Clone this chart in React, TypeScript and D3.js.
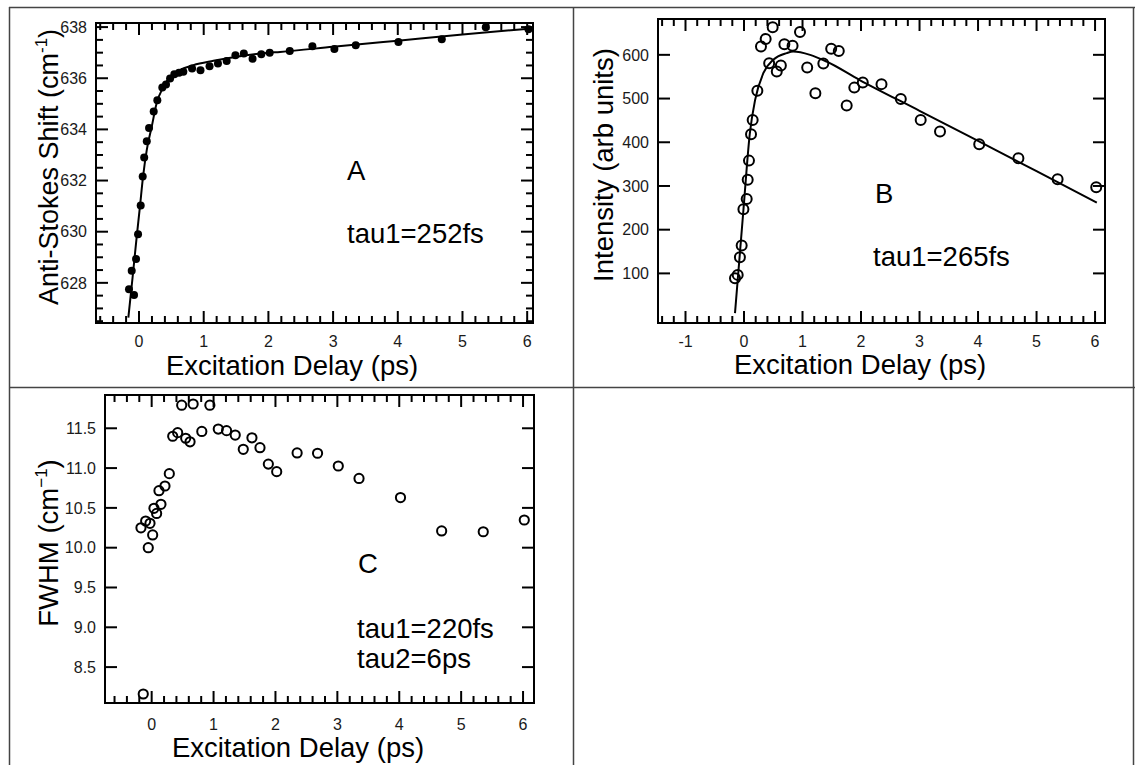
import React from "react";
import * as d3 from "d3";

const FONT = '"Liberation Sans", Arial, Helvetica, sans-serif';

// ---------- Panel A: Anti-Stokes shift ----------
const delayA = [-0.155, -0.113, -0.077, -0.046, -0.015, 0.026, 0.057, 0.08, 0.12, 0.155, 0.227, 0.283, 0.36, 0.417, 0.48, 0.546, 0.618, 0.685, 0.82, 0.95, 1.09, 1.22, 1.355, 1.49, 1.62, 1.755, 1.89, 2.02, 2.33, 2.68, 3.02, 3.35, 4.01, 4.68, 5.36, 6.02];
const shiftA = [627.75, 628.47, 627.52, 628.93, 629.9, 631.02, 632.16, 632.9, 633.54, 634.05, 634.7, 635.14, 635.64, 635.76, 635.99, 636.16, 636.21, 636.25, 636.38, 636.31, 636.47, 636.58, 636.67, 636.9, 636.97, 636.76, 636.94, 637.0, 637.07, 637.25, 637.14, 637.29, 637.42, 637.52, 637.99, 637.92];
const fitDelayA = [-0.165, -0.1, -0.04, 0.015, 0.06, 0.12, 0.196, 0.27, 0.376, 0.48, 0.63, 0.84, 1.15, 1.56, 1.97, 2.18, 3, 4, 5, 6.07];
const fitShiftA = [626.64, 628.2, 629.7, 631.0, 632.1, 633.2, 634.1, 635.0, 635.66, 636.05, 636.31, 636.51, 636.68, 636.86, 636.99, 637.03, 637.23, 637.47, 637.71, 637.95];
const xTicksA = [0, 1, 2, 3, 4, 5, 6];
const yTicksA = [628, 630, 632, 634, 636, 638];

// ---------- Panel B: Intensity ----------
const delayB = [-0.154, -0.108, -0.07, -0.04, -0.01, 0.046, 0.063, 0.085, 0.12, 0.148, 0.228, 0.29, 0.37, 0.43, 0.49, 0.56, 0.63, 0.69, 0.83, 0.957, 1.08, 1.22, 1.356, 1.49, 1.62, 1.755, 1.885, 2.03, 2.35, 2.68, 3.02, 3.35, 4.02, 4.69, 5.36, 6.02];
const intensityB = [89, 96.6, 137, 163.6, 247, 270, 314, 358, 418.5, 451, 518, 619, 636, 581, 663, 562, 575.6, 624.5, 620.6, 652, 571, 512, 580, 613.7, 609, 484, 525, 536.6, 533, 499, 451, 424.5, 395.6, 363.6, 315.6, 297];
const fitDelayB = [-0.154, -0.01, 0.1, 0.19, 0.33, 0.5, 0.73, 0.84, 1.13, 1.41, 1.97, 3, 4, 5, 6.03];
const fitIntensityB = [9, 245, 421, 497, 558, 588.6, 604, 607.6, 600, 584.7, 543, 472, 403, 334, 262];
const xTicksB = [-1, 0, 1, 2, 3, 4, 5, 6];
const yTicksB = [100, 200, 300, 400, 500, 600];

// ---------- Panel C: FWHM ----------
const delayC = [-0.173, -0.136, -0.097, -0.055, -0.027, 0.016, 0.037, 0.08, 0.118, 0.15, 0.215, 0.285, 0.34, 0.42, 0.485, 0.55, 0.62, 0.67, 0.81, 0.94, 1.076, 1.21, 1.35, 1.48, 1.62, 1.75, 1.885, 2.02, 2.35, 2.68, 3.015, 3.35, 4.02, 4.685, 5.357, 6.02];
const fwhmC = [10.25, 8.162, 10.335, 10.0, 10.306, 10.16, 10.495, 10.43, 10.716, 10.545, 10.775, 10.93, 11.4, 11.445, 11.79, 11.375, 11.33, 11.805, 11.46, 11.79, 11.49, 11.47, 11.415, 11.236, 11.38, 11.256, 11.05, 10.955, 11.19, 11.186, 11.026, 10.87, 10.63, 10.21, 10.2, 10.348];
const xTicksC = [0, 1, 2, 3, 4, 5, 6];
const yTicksC = [8.5, 9.0, 9.5, 10.0, 10.5, 11.0, 11.5];

type PanelProps = {
  box: [number, number, number, number]; // left, top, right, bottom
  xDomain: [number, number];
  yDomain: [number, number];
  xTicks: number[];
  xMinorStep: number;
  yTicks: number[];
  yMinorStep: number | null;
  yFormat: (v: number) => string;
  xLabelOffset: number;
  yLabelGap: number;
  tickFont: number;
  xs: number[];
  ys: number[];
  fitX?: number[];
  fitY?: number[];
  filled: boolean;
  r: number;
};

function Panel(p: PanelProps) {
  const [l, t, r, b] = p.box;
  const x = d3.scaleLinear().domain(p.xDomain).range([l, r]);
  const y = d3.scaleLinear().domain(p.yDomain).range([b, t]);
  const MAJ = 12;
  const MIN = 7;
  const eps = 1e-6;
  const xMinor = d3
    .range(Math.ceil(p.xDomain[0] / p.xMinorStep) * p.xMinorStep, p.xDomain[1] + eps, p.xMinorStep)
    .filter((v) => !p.xTicks.some((m) => Math.abs(m - v) < eps));
  const yMinor = p.yMinorStep
    ? d3
        .range(Math.ceil(p.yDomain[0] / p.yMinorStep) * p.yMinorStep, p.yDomain[1] + eps, p.yMinorStep)
        .filter((v) => !p.yTicks.some((m) => Math.abs(m - v) < eps))
    : [];
  const line = d3
    .line<number>()
    .x((_, i) => x(p.fitX![i]))
    .y((d) => y(d))
    .curve(d3.curveMonotoneX);
  return (
    <g>
      <g stroke="#000" strokeWidth={2}>
        {p.xTicks.map((v) => (
          <g key={"xm" + v}>
            <line x1={x(v)} x2={x(v)} y1={b} y2={b - MAJ} />
            <line x1={x(v)} x2={x(v)} y1={t} y2={t + MAJ} />
          </g>
        ))}
        {xMinor.map((v, i) => (
          <g key={"xn" + i}>
            <line x1={x(v)} x2={x(v)} y1={b} y2={b - MIN} />
            <line x1={x(v)} x2={x(v)} y1={t} y2={t + MIN} />
          </g>
        ))}
        {p.yTicks.map((v) => (
          <g key={"ym" + v}>
            <line x1={l} x2={l + MAJ} y1={y(v)} y2={y(v)} />
            <line x1={r} x2={r - MAJ} y1={y(v)} y2={y(v)} />
          </g>
        ))}
        {yMinor.map((v, i) => (
          <g key={"yn" + i}>
            <line x1={l} x2={l + MIN} y1={y(v)} y2={y(v)} />
            <line x1={r} x2={r - MIN} y1={y(v)} y2={y(v)} />
          </g>
        ))}
      </g>
      <rect x={l} y={t} width={r - l} height={b - t} fill="none" stroke="#000" strokeWidth={2} />
      <g fontFamily={FONT} fontSize={p.tickFont} fill="#1a1a1a">
        {p.xTicks.map((v) => (
          <text key={"xl" + v} x={x(v)} y={b + p.xLabelOffset} textAnchor="middle">
            {v < 0 ? "-" + Math.abs(v) : String(v)}
          </text>
        ))}
        {p.yTicks.map((v) => (
          <text key={"yl" + v} x={l - p.yLabelGap} y={y(v)} dy="0.36em" textAnchor="end">
            {p.yFormat(v)}
          </text>
        ))}
      </g>
      {p.fitX && p.fitY && (
        <path d={line(p.fitY) || ""} fill="none" stroke="#000" strokeWidth={2} />
      )}
      <g>
        {p.xs.map((v, i) => (
          <circle
            key={i}
            cx={x(v)}
            cy={y(p.ys[i])}
            r={p.r}
            fill={p.filled ? "#000" : "none"}
            stroke="#000"
            strokeWidth={p.filled ? 0 : 2}
          />
        ))}
      </g>
    </g>
  );
}

export default function App() {
  const big = 27.5;
  const ybig = 27.5;
  return (
    <svg
      width={1135}
      height={765}
      viewBox="0 0 1135 765"
      style={{ position: "absolute", left: 0, top: 0, background: "#fff" }}
    >
      <rect x={0} y={0} width={1135} height={765} fill="#fff" />
      <g stroke="#444" strokeWidth={1.5}>
        <line x1={9} x2={1135} y1={7.5} y2={7.5} />
        <line x1={9.5} x2={9.5} y1={7} y2={765} />
        <line x1={573.5} x2={573.5} y1={7} y2={765} />
        <line x1={9} x2={1135} y1={387.5} y2={387.5} />
        <line x1={1133.5} x2={1133.5} y1={7} y2={765} />
      </g>

      {/* Panel A */}
      <Panel
        box={[96, 23, 533, 323]}
        xDomain={[-0.665, 6.09]}
        yDomain={[626.43, 638.16]}
        xTicks={xTicksA}
        xMinorStep={0.2}
        yTicks={yTicksA}
        yMinorStep={0.5}
        yFormat={(v) => String(v)}
        xLabelOffset={24}
        yLabelGap={9}
        tickFont={16}
        xs={delayA}
        ys={shiftA}
        fitX={fitDelayA}
        fitY={fitShiftA}
        filled={true}
        r={4}
      />
      <g fontFamily={FONT} fill="#000">
        <text x={292} y={375} fontSize={big} textAnchor="middle">Excitation Delay (ps)</text>
        <text transform="translate(58,167) rotate(-90)" fontSize={27} textAnchor="middle">
          Anti-Stokes Shift (cm<tspan dy={-11} fontSize={17}>-1</tspan>
          <tspan dy={11}>)</tspan>
        </text>
        <text x={347} y={180} fontSize={big}>A</text>
        <text x={347} y={243} fontSize={big}>tau1=252fs</text>
      </g>

      {/* Panel B */}
      <Panel
        box={[658, 19, 1105, 323]}
        xDomain={[-1.47, 6.17]}
        yDomain={[-13.5, 682]}
        xTicks={xTicksB}
        xMinorStep={0.2}
        yTicks={yTicksB}
        yMinorStep={null}
        yFormat={(v) => String(v)}
        xLabelOffset={24}
        yLabelGap={9}
        tickFont={16}
        xs={delayB}
        ys={intensityB}
        fitX={fitDelayB}
        fitY={fitIntensityB}
        filled={false}
        r={5}
      />
      <g fontFamily={FONT} fill="#000">
        <text x={860} y={374} fontSize={big} textAnchor="middle">Excitation Delay (ps)</text>
        <text transform="translate(613,165) rotate(-90)" fontSize={ybig} textAnchor="middle">
          Intensity (arb units)
        </text>
        <text x={875} y={203} fontSize={big}>B</text>
        <text x={873} y={266} fontSize={big}>tau1=265fs</text>
      </g>

      {/* Panel C */}
      <Panel
        box={[105, 395, 534, 703]}
        xDomain={[-0.754, 6.177]}
        yDomain={[8.049, 11.918]}
        xTicks={xTicksC}
        xMinorStep={0.2}
        yTicks={yTicksC}
        yMinorStep={null}
        yFormat={(v) => v.toFixed(1)}
        xLabelOffset={27}
        yLabelGap={9}
        tickFont={16}
        xs={delayC}
        ys={fwhmC}
        filled={false}
        r={4.6}
      />
      <g fontFamily={FONT} fill="#000">
        <text x={298} y={757} fontSize={big} textAnchor="middle">Excitation Delay (ps)</text>
        <text transform="translate(58,543) rotate(-90)" fontSize={ybig} textAnchor="middle">
          FWHM (cm<tspan dy={-11} fontSize={17}>−1</tspan>
          <tspan dy={11}>)</tspan>
        </text>
        <text x={358} y={573} fontSize={big}>C</text>
        <text x={357} y={638} fontSize={big}>tau1=220fs</text>
        <text x={357} y={668} fontSize={big}>tau2=6ps</text>
      </g>
    </svg>
  );
}
